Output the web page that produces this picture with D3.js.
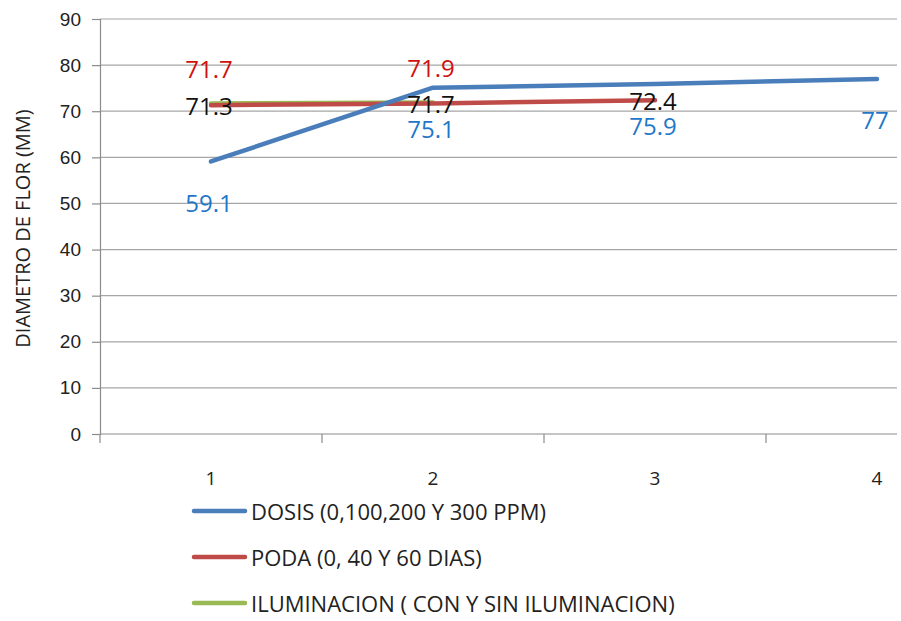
<!DOCTYPE html>
<html>
<head>
<meta charset="utf-8">
<script src="https://cdn.jsdelivr.net/npm/d3@7"></script>
<style>
  html, body { margin: 0; padding: 0; background: #ffffff; }
  svg { display: block; font-family: "Open Sans", "Liberation Sans", sans-serif; }
</style>
</head>
<body>
<svg id="chart" width="901" height="621"></svg>
<script>
// Category positions along the x axis
const categories = [1, 2, 3, 4];

// Series values (flower diameter, mm)
const dosisValues = [59.1, 75.1, 75.9, 77];
const podaValues = [71.3, 71.7, 72.4];
const iluminacionValues = [71.7, 71.9];

const seriesNames = [
  "DOSIS (0,100,200 Y 300 PPM)",
  "PODA (0, 40 Y 60 DIAS)",
  "ILUMINACION ( CON Y SIN ILUMINACION)"
];

const yTicks = [0, 10, 20, 30, 40, 50, 60, 70, 80, 90];
const yTitle = "DIAMETRO DE FLOR (MM)";

const series = [
  { name: seriesNames[0], values: dosisValues, line: "#4a7ebb", label: "#1f77c9", dy: 41 },
  { name: seriesNames[1], values: podaValues, line: "#be4b48", label: "#111111", dy: 0 },
  { name: seriesNames[2], values: iluminacionValues, line: "#98b954", label: "#d01010", dy: -35 }
];

const svg = d3.select("#chart");
const plotLeft = 100, plotTop = 19, plotBottom = 434;
const bandW = 222;

const x = d3.scaleBand().domain(categories).range([plotLeft, plotLeft + bandW * categories.length]).padding(0);
const y = d3.scaleLinear().domain([0, 90]).range([plotBottom, plotTop]);
const plotRight = 897;

// Horizontal gridlines
svg.append("g").selectAll("line").data(yTicks.filter(t => t > 0)).join("line")
  .attr("x1", plotLeft).attr("x2", plotRight)
  .attr("y1", d => y(d)).attr("y2", d => y(d))
  .attr("stroke", "#a6a6a6").attr("stroke-width", 1.2);

// Y axis
const yAxis = svg.append("g").attr("transform", `translate(${plotLeft},0)`)
  .call(d3.axisLeft(y).tickValues(yTicks).tickSize(8).tickPadding(11));
yAxis.select(".domain").attr("stroke", "#8c8c8c").attr("stroke-width", 1.2);
yAxis.selectAll(".tick line").attr("stroke", "#8c8c8c").attr("stroke-width", 1.2);
yAxis.selectAll(".tick text").attr("font-size", 19).attr("fill", "#222").attr("font-family", "inherit");

// X axis line with ticks at category boundaries
const xg = svg.append("g");
xg.append("line").attr("x1", plotLeft).attr("x2", plotRight).attr("y1", plotBottom).attr("y2", plotBottom)
  .attr("stroke", "#8c8c8c").attr("stroke-width", 1.2);
const boundaries = categories.map(c => x(c));
xg.selectAll("line.tk").data(boundaries).join("line").attr("class", "tk")
  .attr("x1", d => d).attr("x2", d => d).attr("y1", plotBottom).attr("y2", plotBottom + 9)
  .attr("stroke", "#8c8c8c").attr("stroke-width", 1.2);
xg.selectAll("text").data(categories).join("text")
  .attr("x", d => x(d) + x.bandwidth() / 2).attr("y", 478)
  .attr("text-anchor", "middle").attr("dominant-baseline", "central")
  .attr("font-size", 19).attr("fill", "#222").text(d => d);

// Y axis title
svg.append("text")
  .attr("transform", `translate(22,${(plotTop + plotBottom) / 2 + 2}) rotate(-90)`)
  .attr("text-anchor", "middle").attr("dominant-baseline", "central")
  .attr("font-size", 20).attr("fill", "#222").text(yTitle);

const cx = i => x(categories[i]) + x.bandwidth() / 2;
const line = d3.line().x((d, i) => cx(i)).y(d => y(d));

// Lines: draw in reverse order so the first series sits on top
series.slice().reverse().forEach(s => {
  svg.append("path").datum(s.values)
    .attr("d", line).attr("fill", "none")
    .attr("stroke", s.line).attr("stroke-width", 4.5)
    .attr("stroke-linecap", "round").attr("stroke-linejoin", "round");
});

// Data labels
series.forEach(s => {
  svg.append("g").selectAll("text").data(s.values).join("text")
    .attr("x", (d, i) => cx(i) - 2)
    .attr("y", d => y(d) + s.dy)
    .attr("text-anchor", "middle").attr("dominant-baseline", "central")
    .attr("font-size", 24).attr("fill", s.label).text(d => d);
});

// Legend
const lg = svg.append("g");
series.forEach((s, i) => {
  const ly = 511 + i * 46;
  lg.append("line").attr("x1", 194).attr("x2", 245).attr("y1", ly).attr("y2", ly)
    .attr("stroke", s.line).attr("stroke-width", 4.5).attr("stroke-linecap", "round");
  lg.append("text").attr("x", 251).attr("y", ly).attr("dominant-baseline", "central")
    .attr("font-size", 22).attr("fill", "#222").text(s.name);
});
</script>
</body>
</html>
